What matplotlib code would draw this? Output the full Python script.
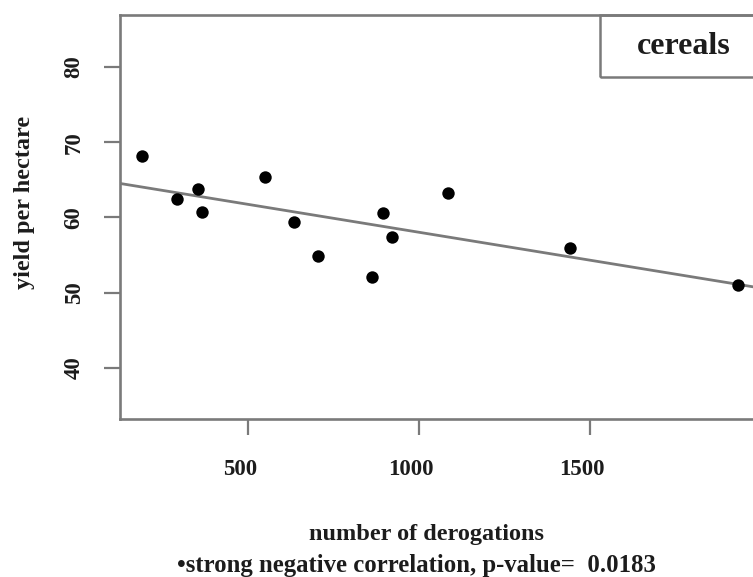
import numpy as np
import matplotlib
matplotlib.use("Agg")
import matplotlib.pyplot as plt
from matplotlib.patches import Rectangle
from matplotlib.transforms import ScaledTranslation

plt.rcParams['font.family'] = ['Liberation Serif', 'DejaVu Serif']
plt.rcParams['font.weight'] = 'bold'

# derogations vs. yield for cereals
derogations = [188, 292, 354, 365, 549, 635, 705, 862, 895, 921, 1085, 1441, 1934]
yield_ha = [68.1, 62.4, 63.8, 60.7, 65.4, 59.4, 54.8, 52.1, 60.6, 57.4, 63.2, 55.9, 51.0]
x_ticks = [500, 1000, 1500]
y_ticks = [40, 50, 60, 70, 80]
crop_name = "cereals"
p_value = "0.0183"

grey = "#7a7a7a"
ink = "#1c1c1c"

fig = plt.figure(figsize=(7.53, 5.77), dpi=100)
ax = fig.add_axes([120 / 753, 1 - 419 / 577, 648 / 753, 404 / 577])

x = np.array(derogations, dtype=float)
y = np.array(yield_ha, dtype=float)
slope, intercept = np.polyfit(x, y, 1)

ax.set_xlim(124.5, 2021)
ax.set_ylim(33.2, 86.9)
xs = np.array(ax.get_xlim())
ax.plot(xs, intercept + slope * xs, color=grey, lw=2.0, zorder=2)
ax.scatter(x, y, s=80, color="black", zorder=3, linewidths=0)

for sp in ax.spines.values():
    sp.set_color(grey)
    sp.set_linewidth(1.9)

ax.set_xticks(x_ticks)
ax.set_yticks(y_ticks)
ax.tick_params(axis='both', length=11.5, width=1.6, color=grey, labelsize=16.5,
               labelcolor=ink)
ax.tick_params(axis='x', pad=17)
ax.tick_params(axis='y', pad=14, labelrotation=90)
for lab in ax.get_yticklabels():
    lab.set_va('center')
shift = ScaledTranslation(-0.08, 0, fig.dpi_scale_trans)
for lab in ax.get_xticklabels():
    lab.set_transform(lab.get_transform() + shift)

# legend box in the top right corner
ax.add_patch(Rectangle((480 / 648, 1 - 62 / 404), 168 / 648, 62 / 404,
                       transform=ax.transAxes, fill=False, edgecolor=grey,
                       lw=1.8, clip_on=False, zorder=4))
ax.text(564 / 648, 1 - 31 / 404, crop_name, transform=ax.transAxes,
        ha='center', va='center', fontsize=23, color=ink)

fig.text(25 / 753, 1 - 202 / 577, "yield per hectare", rotation=90,
         ha='center', va='center', fontsize=17.5, color=ink)
fig.text(426 / 753, 1 - 540 / 577, "number of derogations",
         ha='center', va='baseline', fontsize=17.5, color=ink)
fig.text(416 / 753, 1 - 572 / 577,
         "•strong negative correlation, p-value=  " + p_value,
         ha='center', va='baseline', fontsize=17.8, color=ink)

fig.savefig("out.png", dpi=100)
